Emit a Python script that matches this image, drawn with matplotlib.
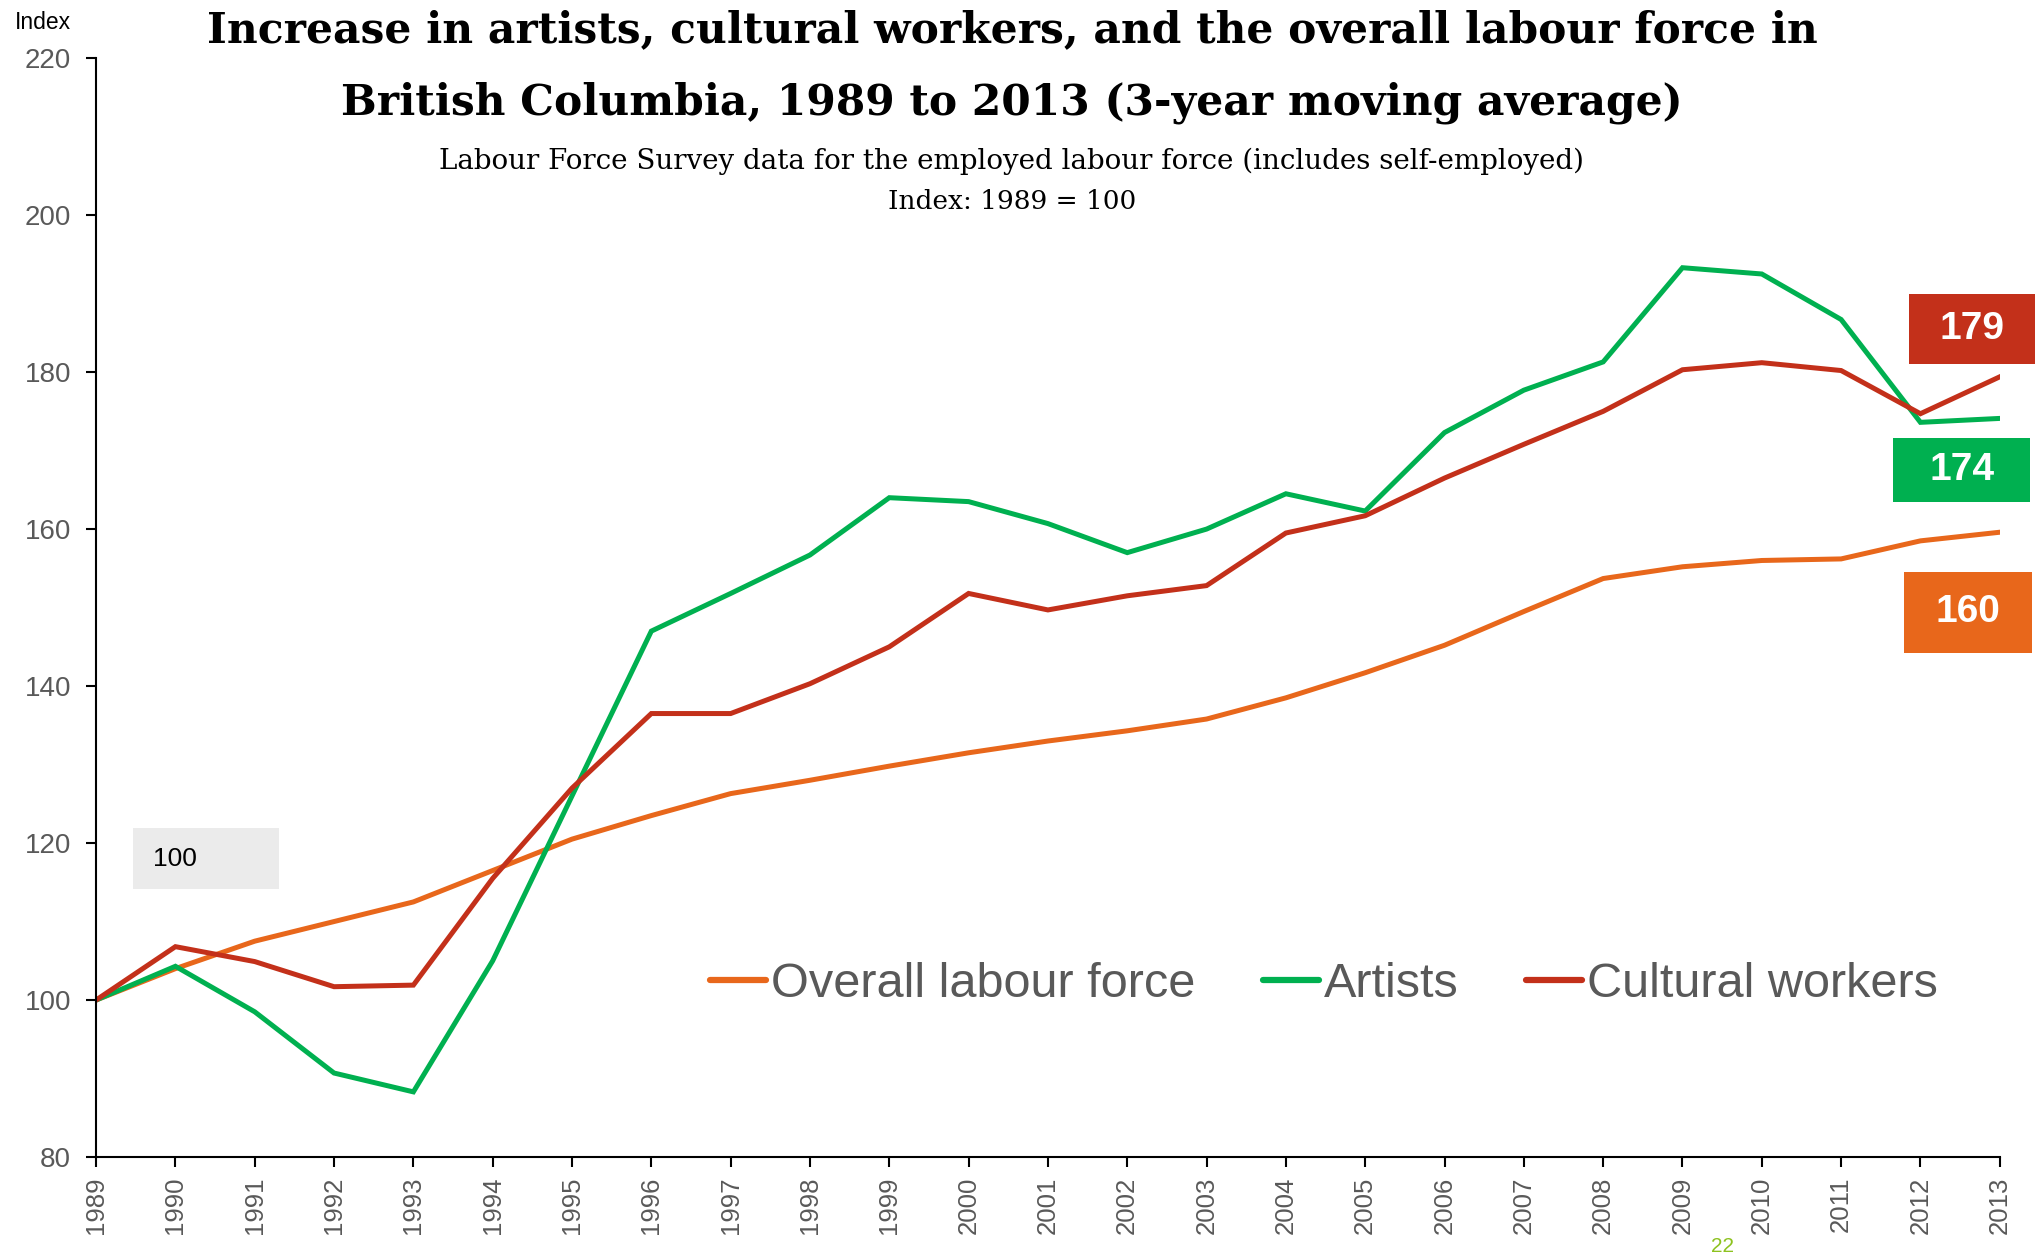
import numpy as np
import matplotlib
matplotlib.use('Agg')
import matplotlib.pyplot as plt
from matplotlib.patches import Rectangle

# values (index, 1989 = 100)
years = np.arange(1989, 2014)
overall = [100, 104.0, 107.5, 110.0, 112.5, 116.5, 120.5, 123.5, 126.3, 128.0,
           129.8, 131.5, 133.0, 134.3, 135.8, 138.5, 141.7, 145.2, 149.5, 153.7,
           155.2, 156.0, 156.2, 158.5, 159.6]
artists = [100, 104.3, 98.5, 90.7, 88.3, 105.0, 126.0, 147.0, 151.8, 156.7,
           164.0, 163.5, 160.7, 157.0, 160.0, 164.5, 162.3, 172.3, 177.7, 181.3,
           193.3, 192.5, 186.7, 173.6, 174.1]
cultural = [100, 106.8, 104.9, 101.7, 101.9, 115.5, 127.0, 136.5, 136.5, 140.3,
            145.0, 151.8, 149.7, 151.5, 152.8, 159.5, 161.7, 166.5, 170.8, 175.0,
            180.3, 181.2, 180.2, 174.7, 179.4]
series_names = ['Overall labour force', 'Artists', 'Cultural workers']
y_ticks = [80, 100, 120, 140, 160, 180, 200, 220]

colors = ['#E8671B', '#00B050', '#C3301A']
tick_grey = '#595959'
sans = 'Liberation Sans'
serif = 'DejaVu Serif'

fig = plt.figure(figsize=(20.36, 12.53), dpi=100)
ax = fig.add_axes([0.0472, 0.0766, 0.9350, 0.8770])

series = [overall, artists, cultural]
for vals, name, c in zip(series, series_names, colors):
    ax.plot(years, vals, color=c, linewidth=3.6, label=name, solid_joinstyle='miter')

ax.set_xlim(years[0], years[-1])
ax.set_ylim(y_ticks[0], y_ticks[-1])
ax.set_xticks(years)
ax.set_xticklabels([str(y) for y in years], rotation=90, family=sans,
                   fontsize=18.5, color=tick_grey)
ax.set_yticks(y_ticks)
ax.set_yticklabels([str(v) for v in y_ticks], family=sans, fontsize=20,
                   color=tick_grey)
ax.tick_params(axis='both', direction='out', length=7, width=1.5, color='black')
ax.tick_params(axis='y', pad=11)
ax.tick_params(axis='x', pad=7)
for side in ['top', 'right']:
    ax.spines[side].set_visible(False)
for side in ['left', 'bottom']:
    ax.spines[side].set_linewidth(1.5)

# end-value boxes (offset from the last point of each series)
box_specs = [(-10.2, 1.62, 10.3, -0.40), (-6.6, 1.72, 8.2, -0.48), (6.1, 1.58, 8.9, -0.35)]
for vals, c, (dy, w, h, dx) in zip(series, colors, box_specs):
    cx = years[-1] + dx
    cy = vals[-1] + dy
    ax.add_patch(Rectangle((cx - w / 2, cy - h / 2), w, h, facecolor=c,
                           edgecolor='none', clip_on=False, zorder=5))
    ax.text(cx, cy, f'{round(vals[-1])}', ha='center', va='center',
            color='white', fontsize=28, fontweight='bold',
            family=sans, zorder=6, clip_on=False)

# grey "100" base label
ax.add_patch(Rectangle((years[0] + 0.47, 114.1), 1.83, 7.8, facecolor='#EBEBEB',
                       edgecolor='none', zorder=1))
ax.text(years[0] + 0.72, 118.0, f'{overall[0]}', ha='left', va='center',
        fontsize=19, family=sans, color='black', zorder=2)

leg = ax.legend(loc='center', bbox_to_anchor=(0.645, 0.157), ncol=3,
                frameon=False, handlelength=1.14, handletextpad=0.1,
                columnspacing=1.4, prop={'family': sans, 'size': 35})
for t in leg.get_texts():
    t.set_color(tick_grey)
for l in leg.get_lines():
    l.set_linewidth(4.5)
    l.set_solid_capstyle('round')

fig.text(0.497, 0.976, 'Increase in artists, cultural workers, and the overall labour force in',
         ha='center', va='center', fontsize=30.5, fontweight='bold', family=serif)
fig.text(0.497, 0.918, 'British Columbia, 1989 to 2013 (3-year moving average)',
         ha='center', va='center', fontsize=30.5, fontweight='bold', family=serif)
fig.text(0.497, 0.871, 'Labour Force Survey data for the employed labour force (includes self-employed)',
         ha='center', va='center', fontsize=20, family=serif)
fig.text(0.497, 0.839, 'Index: 1989 = 100', ha='center', va='center', fontsize=19,
         family=serif)
fig.text(0.0075, 0.982, 'Index', ha='left', va='center', fontsize=16.5, family=sans,
         color='black')
fig.text(0.846, 0.001, '22', ha='center', va='baseline', fontsize=15, family=sans,
         color='#8DC21F')

fig.savefig('out.png', dpi=100)
